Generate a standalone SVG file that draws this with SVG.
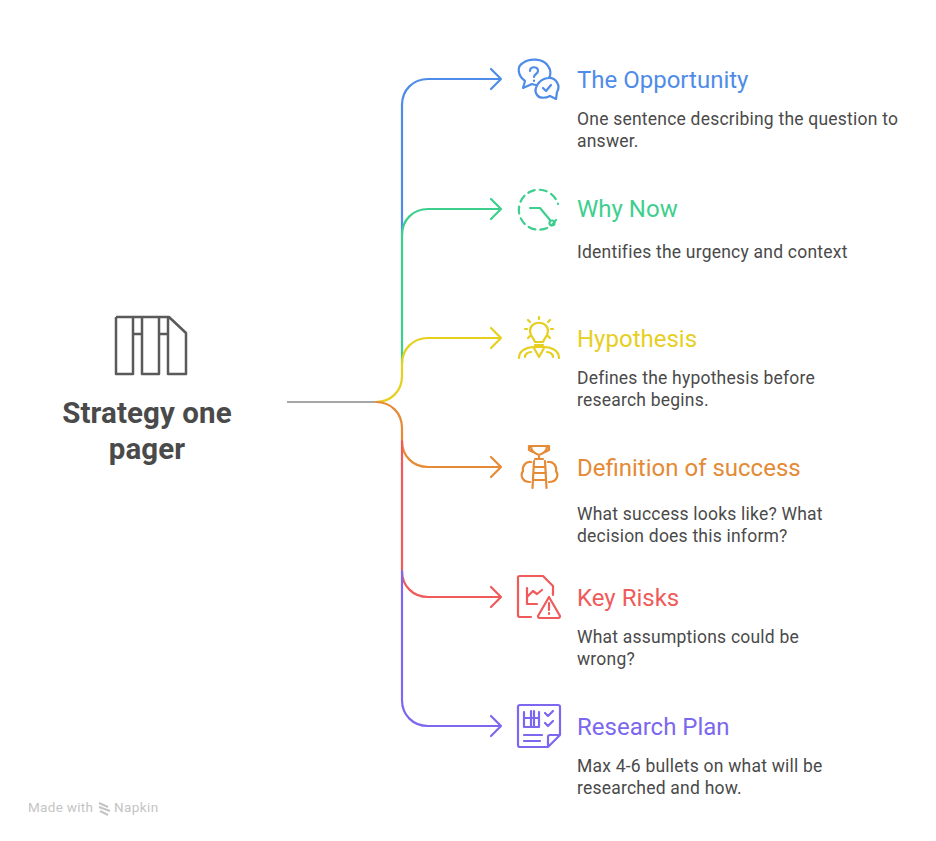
<svg xmlns="http://www.w3.org/2000/svg" width="936" height="841" viewBox="0 0 936 841">
<style>
text{font-family:Roboto,"Liberation Sans",sans-serif}
.t{font-size:24px;font-weight:400;letter-spacing:0}
.b{font-size:17.5px;fill:#4a4a4a;letter-spacing:.22px}
.h{font-size:29.5px;font-weight:700;fill:#4a4a4a;text-anchor:middle;letter-spacing:.1px}
.c,.i{fill:none;stroke-width:2.2;stroke-linecap:round;stroke-linejoin:round}
.blue{stroke:#4f8ce8}.green{stroke:#3ecf8e}.yellow{stroke:#e6cf1e}.orange{stroke:#e58a35}.red{stroke:#ef5b5b}.purple{stroke:#7c68ee}
</style>
<rect width="936" height="841" fill="#fff"/>
<g id="connectors" class="connectors">
<path d="M287 402H376" fill="none" stroke="#a6a6a6" stroke-width="2.2"/>
<path class="c blue" d="M402 235V105C402 90 413 79 428 79H501M491 69L501 79L491 89"/>
<path class="c green" d="M402 364V235C402 220 413 209 428 209H501M491 199L501 209L491 219"/>
<path class="c yellow" d="M376 402C391 402 402 391 402 376V364C402 349 413 338 428 338H501M491 328L501 338L491 348"/>
<path class="c orange" d="M376 402C391 402 402 413 402 428V441C402 456 413 467 428 467H501M491 457L501 467L491 477"/>
<path class="c red" d="M402 441V571C402 586 413 597 428 597H501M491 587L501 597L491 607"/>
<path class="c purple" d="M402 571V700C402 715 413 726 428 726H501M491 716L501 726L491 736"/>
</g>
<g id="center">
<g fill="none" stroke="#5a5a5a" stroke-width="2.5" stroke-linejoin="round">
<path d="M116 317H169L186 333V374H168V317M116 317V374H133V317M142 317V374H159V317M133 334H142M159 334H168"/>
</g>
<text class="h" x="147" y="423">Strategy one</text>
<text class="h" x="147" y="459">pager</text>
</g>
<g id="n1">
<g class="i blue"><path d="M525 81C517 75 517 66 523 63C529 58 543 58 548 66C551 70 551 75 549 78M525 81L523 88L532 84C534 85 535 85 537 85"/><path d="M537 95C533 90 538 79 548 78C556 77 561 86 557 92L556 99L550 96C546 98 540 99 537 95Z"/><path d="M543 88L546 91L551 85"/><path d="M530 71C530 66 538 66 538 71C538 74 534 74 534 77M534 80.500V81"/></g>
<text class="t" x="577" y="87.500" fill="#4f8ce8">The Opportunity</text>
<text class="b" x="577" y="124.500">One sentence describing the question to</text>
<text class="b" x="577" y="146.500">answer.</text>
</g>
<g id="n2">
<g class="i green"><path d="M556 220A20 20 0 1 1 558 204" stroke-dasharray="7 5"/><path d="M530 208H540L550 220"/><circle cx="552" cy="223" r="2.500"/></g>
<text class="t" x="577" y="216.500" fill="#3ecf8e">Why Now</text>
<text class="b" x="577" y="257.500">Identifies the urgency and context</text>
</g>
<g id="n3">
<g class="i yellow"><path d="M535 342C533 337 530 336 530 331C530 320 548 320 548 331C548 336 545 337 543 342ZM535 345H543M539 317V319M525 329H527M551 329H553M528 320L530 322M550 320L548 322M528 338L530 336M550 338L548 336"/><path d="M519 358C519 351 526 347 534 347H544C552 347 559 351 559 358M534 348L539 357L544 348M525 357C525 354 528 352 531 352M553 357C553 354 550 352 547 352"/></g>
<text class="t" x="577" y="346.500" fill="#e6cf1e">Hypothesis</text>
<text class="b" x="577" y="383.500">Defines the hypothesis before</text>
<text class="b" x="577" y="405.500">research begins.</text>
</g>
<g id="n4">
<g class="i orange"><path d="M529 446H549M531 446C531 452 536 454 539 455C542 454 547 452 547 446M529 446V450L533 452M549 446V450L545 452M539 455V458M535 459H543"/><path d="M534 461L532.500 488M545 461L546.500 488M534 467H545M533.500 473H546M533 480H546"/><path d="M531 462C526 461 522 466 523 471C520 475 522 482 530 482M548 462C553 461 557 466 556 471C559 475 557 482 549 482"/></g>
<text class="t" x="577" y="475.500" fill="#e58a35">Definition of success</text>
<text class="b" x="577" y="519.500">What success looks like? What</text>
<text class="b" x="577" y="541.500">decision does this inform?</text>
</g>
<g id="n5">
<g class="i red"><path d="M531 617H520C519 617 518 616 518 615V577C518 576 519 576 520 576H543L553 586V595"/><path d="M527 588V604H537M527 597L533 591L537 594L542 590"/><path d="M549 597L560 616C560 617 559 618 558 618H540C538 618 538 617 538 616Z"/><path d="M549 603V610M549 613V614"/></g>
<text class="t" x="577" y="605.500" fill="#ef5b5b">Key Risks</text>
<text class="b" x="577" y="642.500">What assumptions could be</text>
<text class="b" x="577" y="664.500">wrong?</text>
</g>
<g id="n6">
<g class="i purple"><path d="M548 747H520C519 747 518 746 518 745V707C518 706 519 705 520 705H558C559 705 560 706 560 707V735L548 747V737C548 736 549 735 550 735H560"/><path d="M524 712V727H539V712M524 718H539M531 711V727M534 711V727M545 713L548 716L553 711M545 723L548 726L553 721M524 735H542M524 741H540"/></g>
<text class="t" x="577" y="734.500" fill="#7c68ee">Research Plan</text>
<text class="b" x="577" y="771.500">Max 4-6 bullets on what will be</text>
<text class="b" x="577" y="793.500">researched and how.</text>
</g>
<g id="footer">
<text x="28" y="812" font-size="13.500" letter-spacing=".3" fill="#c4c4c4">Made with</text>
<path d="M99 803L108 807M99 807L110 811M100 811L108 815" fill="none" stroke="#c4c4c4" stroke-width="2"/>
<text x="114" y="812" font-size="13.500" letter-spacing=".4" fill="#c4c4c4">Napkin</text>
</g>
</svg>
